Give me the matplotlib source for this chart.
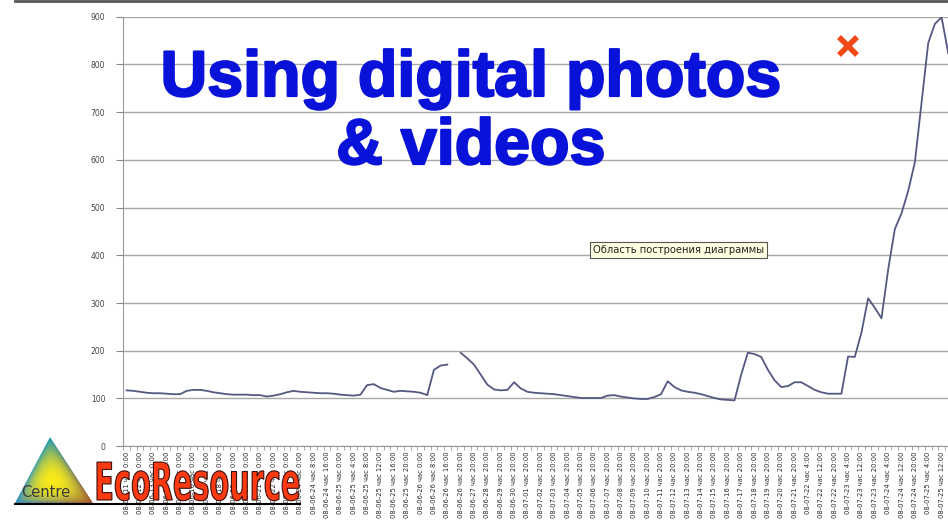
import numpy as np
import matplotlib
matplotlib.use('Agg')
from matplotlib import pyplot as plt
from matplotlib.patches import Polygon, PathPatch
from matplotlib.textpath import TextPath
from matplotlib.font_manager import FontProperties
from matplotlib.transforms import Affine2D
import matplotlib.patheffects as pe

nan = np.nan

# series, one value per category (124 visible categories)
values = [117, 116, 114, 112, 111, 111, 110, 109, 109, 116,
          118, 118, 116, 113, 111, 109, 108, 108, 108, 107,
          107, 104, 106, 109, 113, 116, 114, 113, 112, 111,
          111, 110, 108, 107, 106, 108, 128, 130, 122, 118,
          114, 116, 115, 114, 112, 107, 160, 169, 171, nan,
          196, 184, 171, 150, 129, 119, 117, 118, 134, 121,
          114, 112, 111, 110, 109, 107, 105, 103, 101, 101,
          101, 101, 106, 107, 104, 102, 100, 99, 99, 103,
          109, 136, 124, 117, 114, 112, 109, 105, 101, 98,
          97, 96, 150, 196, 193, 187, 160, 138, 124, 126,
          134, 134, 126, 118, 113, 110, 110, 110, 188, 187,
          238, 310, 290, 268, 370, 455, 488, 535, 595, 720,
          845, 885, 899, 823]

# label on every second category
tick_labels = ['08-06-11 час 0:00', '08-06-12 час 0:00', '08-06-13 час 0:00', '08-06-14 час 0:00',
               '08-06-15 час 0:00', '08-06-16 час 0:00', '08-06-17 час 0:00', '08-06-18 час 0:00',
               '08-06-19 час 0:00', '08-06-20 час 0:00', '08-06-21 час 0:00', '08-06-22 час 0:00',
               '08-06-23 час 0:00', '08-06-24 час 0:00', '08-06-24 час 8:00', '08-06-24 час 16:00',
               '08-06-25 час 0:00', '08-06-25 час 4:00', '08-06-25 час 8:00', '08-06-25 час 12:00',
               '08-06-25 час 16:00', '08-06-25 час 20:00', '08-06-26 час 0:00', '08-06-26 час 8:00',
               '08-06-26 час 16:00', '08-06-26 час 20:00', '08-06-27 час 20:00', '08-06-28 час 20:00',
               '08-06-29 час 20:00', '08-06-30 час 20:00', '08-07-01 час 20:00', '08-07-02 час 20:00',
               '08-07-03 час 20:00', '08-07-04 час 20:00', '08-07-05 час 20:00', '08-07-06 час 20:00',
               '08-07-07 час 20:00', '08-07-08 час 20:00', '08-07-09 час 20:00', '08-07-10 час 20:00',
               '08-07-11 час 20:00', '08-07-12 час 20:00', '08-07-13 час 20:00', '08-07-14 час 20:00',
               '08-07-15 час 20:00', '08-07-16 час 20:00', '08-07-17 час 20:00', '08-07-18 час 20:00',
               '08-07-19 час 20:00', '08-07-20 час 20:00', '08-07-21 час 20:00', '08-07-22 час 4:00',
               '08-07-22 час 12:00', '08-07-22 час 20:00', '08-07-23 час 4:00', '08-07-23 час 12:00',
               '08-07-23 час 20:00', '08-07-24 час 4:00', '08-07-24 час 12:00', '08-07-24 час 20:00',
               '08-07-25 час 4:00', '08-07-25 час 12:00', '08-07-25 час 20:00']

y_ticks = [0, 100, 200, 300, 400, 500, 600, 700, 800, 900]
n_cat = 2 * len(tick_labels)

W, H = 948, 528
fig = plt.figure(figsize=(W / 100, H / 100), dpi=100)
fig.patch.set_facecolor('white')

# plot area runs past the right edge, like the cropped screenshot
ax = fig.add_axes([123.3 / W, (H - 446.2) / H, n_cat * 6.68 / W, 429.5 / H])
ax.set_xlim(-0.5, n_cat - 0.5)
ax.set_ylim(0, 900)
ax.plot(np.arange(len(values)), values, color='#545882', lw=1.3, solid_joinstyle='round')

ax.set_yticks(y_ticks)
ax.set_yticklabels([str(v) for v in y_ticks], fontsize=5.5, color='#444444')
ax.yaxis.grid(True, color='#a8a8a8', lw=1)
ax.set_axisbelow(True)
ax.tick_params(axis='y', length=5, color='#888888', pad=8)

ax.set_xticks(np.arange(0, n_cat, 2))
ax.set_xticklabels(tick_labels, rotation=90, fontsize=4.9, color='#2a2a2a')
ax.set_xticks(np.arange(-0.5, n_cat, 1), minor=True)
ax.tick_params(axis='x', which='major', length=0, pad=4)
ax.tick_params(axis='x', which='minor', length=3, color='#999999')

for s in ['top', 'right']:
    ax.spines[s].set_visible(False)
ax.spines['left'].set_color('#999999')
ax.spines['bottom'].set_color('#999999')

# overlay in pixel coordinates for the slide decorations
ov = fig.add_axes([0, 0, 1, 1], zorder=5)
ov.set_xlim(0, W)
ov.set_ylim(H, 0)
ov.axis('off')
ov.patch.set_alpha(0)

ov.plot([15, W], [1, 1], color='#555555', lw=2)

title_fx = [pe.withStroke(linewidth=1.6, foreground='#0812d8')]
ov.text(471, 96, 'Using digital photos', ha='center', va='baseline', fontsize=46.5,
        fontweight='bold', color='#0812d8', family='Liberation Sans', path_effects=title_fx)
ov.text(471, 164, '& videos', ha='center', va='baseline', fontsize=46.5,
        fontweight='bold', color='#0812d8', family='Liberation Sans', path_effects=title_fx)

ov.plot([848], [46], marker='x', markersize=13, mew=4, color='#f04818')

ov.text(593, 250, 'Область построения диаграммы', ha='left', va='center', fontsize=7.2,
        color='#222222',
        bbox=dict(boxstyle='square,pad=0.3', fc='#ffffe1', ec='#555555', lw=0.8))

# logo triangle with a colour gradient
tri = np.array([[50, 437], [15, 503], [93, 503]])
xs, ys = np.meshgrid(np.arange(10, 100) + 0.5, np.arange(430, 510) + 0.5)
(x1, y1), (x2, y2), (x3, y3) = tri
det = (y2 - y3) * (x1 - x3) + (x3 - x2) * (y1 - y3)
a = ((y2 - y3) * (xs - x3) + (x3 - x2) * (ys - y3)) / det
b = ((y3 - y1) * (xs - x3) + (x1 - x3) * (ys - y3)) / det
c = 1 - a - b
col_a = np.array([0.10, 0.60, 0.70])
col_b = np.array([0.15, 0.55, 0.80])
col_c = np.array([0.65, 0.30, 0.15])
col_y = np.array([0.98, 0.92, 0.10])
w = np.clip(27 * a * b * c, 0, 1)[..., None] ** 0.6
img = (1 - w) * (a[..., None] * col_a + b[..., None] * col_b + c[..., None] * col_c) + w * col_y
img = np.clip(img, 0, 1)
im = ov.imshow(img, extent=(10, 100, 510, 430), origin='upper', zorder=6)
poly = Polygon(tri, closed=True, transform=ov.transData, fc='none', ec='none')
ov.add_patch(poly)
im.set_clip_path(poly)

ov.text(21, 497, 'Centre', fontsize=10.5, color='#3a3a3a', zorder=7)

# condensed logo word: squeeze a text path horizontally
tp = TextPath((0, 0), 'EcoResource', size=52, prop=FontProperties(family='DejaVu Sans', weight='bold'))
ext = tp.get_extents()
sx = 202 / ext.width
logo_tr = Affine2D().translate(-ext.x0, 0).scale(sx, -1).translate(97, 500) + ov.transData
ov.add_patch(PathPatch(tp, transform=logo_tr, fc='#ff3a10', ec='#3a1010', lw=0.8, zorder=7))
ov.plot([15, 300], [503.5, 503.5], color='black', lw=1.5, zorder=7)

fig.savefig('out.png', dpi=100)
